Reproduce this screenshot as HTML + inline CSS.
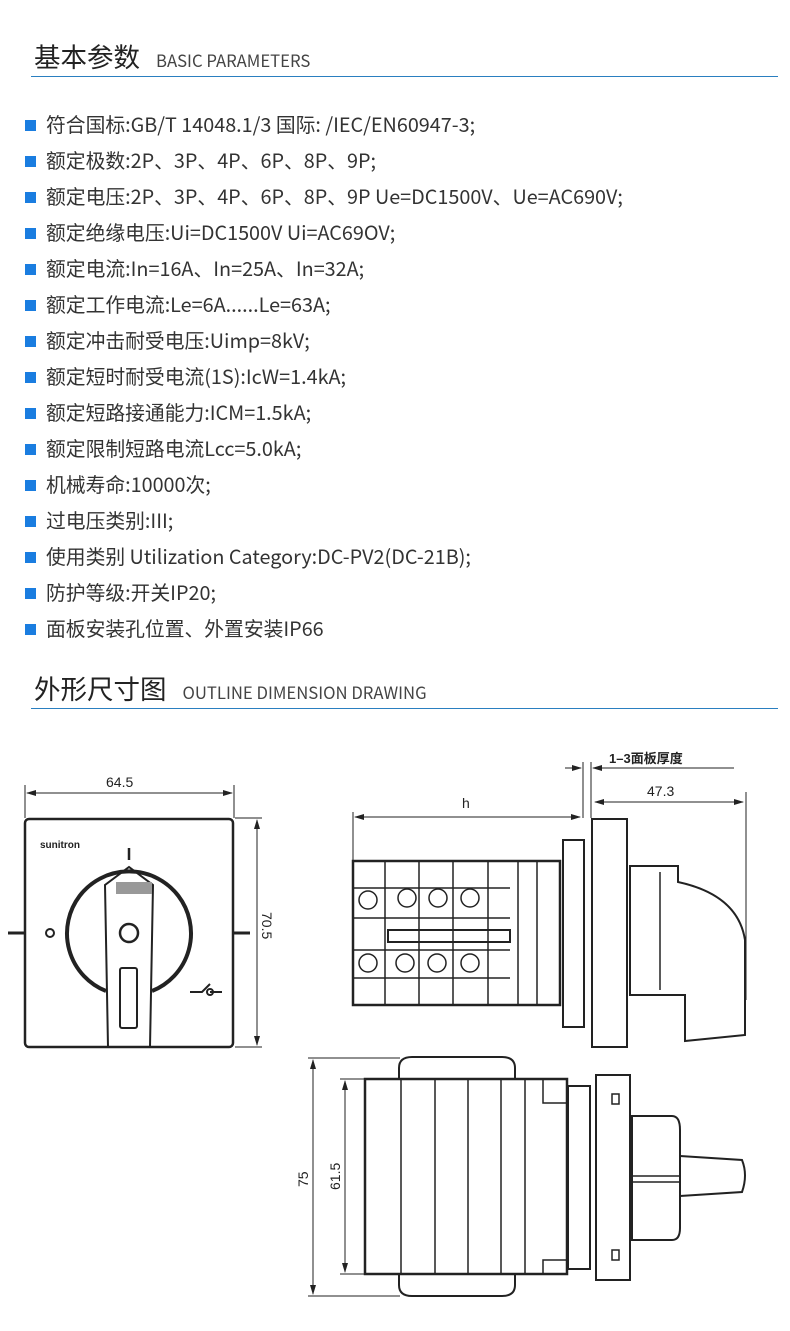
<!DOCTYPE html>
<html><head><meta charset="utf-8"><style>
body{margin:0;width:790px;height:1331px;background:#fff;position:relative;font-family:"Noto Sans CJK SC","Liberation Sans",sans-serif;color:#333;overflow:hidden}
.h{position:absolute;left:34px;font-size:26.5px;color:#222;line-height:36px}
.h small{font-size:16.7px;color:#444;margin-left:16px}
.ln{position:absolute;left:31px;width:747px;height:1px;background:#2a7fc0}
ul{position:absolute;left:25px;top:106px;margin:0;padding:0;list-style:none}
li{height:36px;line-height:36px;font-size:19.8px;color:#333;white-space:nowrap}
li:before{content:"";display:inline-block;width:11px;height:11px;background:#1a7de0;margin-right:10px;vertical-align:1px}
svg{position:absolute;left:0;top:0}
</style></head><body>
<div class="h" style="top:38px">基本参数<small>BASIC PARAMETERS</small></div>
<div class="ln" style="top:76px"></div>
<ul>
<li>符合国标:GB/T 14048.1/3 国际: /IEC/EN60947-3;</li>
<li>额定极数:2P、3P、4P、6P、8P、9P;</li>
<li>额定电压:2P、3P、4P、6P、8P、9P Ue=DC1500V、Ue=AC690V;</li>
<li>额定绝缘电压:Ui=DC1500V Ui=AC69OV;</li>
<li>额定电流:In=16A、In=25A、In=32A;</li>
<li>额定工作电流:Le=6A......Le=63A;</li>
<li>额定冲击耐受电压:Uimp=8kV;</li>
<li>额定短时耐受电流(1S):IcW=1.4kA;</li>
<li>额定短路接通能力:ICM=1.5kA;</li>
<li>额定限制短路电流Lcc=5.0kA;</li>
<li>机械寿命:10000次;</li>
<li>过电压类别:III;</li>
<li>使用类别 Utilization Category:DC-PV2(DC-21B);</li>
<li>防护等级:开关IP20;</li>
<li>面板安装孔位置、外置安装IP66</li>
</ul>
<div class="h" style="top:670px">外形尺寸图<small>OUTLINE DIMENSION DRAWING</small></div>
<div class="ln" style="top:708px"></div>
<svg width="790" height="1331" font-family="Liberation Sans, Noto Sans CJK SC, sans-serif" fill="none" stroke="#222">
<defs><marker id="a" markerWidth="10" markerHeight="6" refX="9" refY="3" orient="auto-start-reverse"><path d="M0,0L10,3L0,6z" fill="#222" stroke="none"/></marker></defs>
<g stroke-width="1">
<line x1="25" y1="785" x2="25" y2="818"/><line x1="234" y1="785" x2="234" y2="818"/>
<line x1="27" y1="793" x2="232" y2="793" marker-start="url(#a)" marker-end="url(#a)"/>
<line x1="235" y1="818" x2="262" y2="818"/><line x1="235" y1="1047" x2="262" y2="1047"/>
<line x1="257" y1="820" x2="257" y2="1045" marker-start="url(#a)" marker-end="url(#a)"/>
</g>
<text x="106" y="787" font-size="14" fill="#222" stroke="none">64.5</text>
<text x="262" y="912" font-size="14" fill="#222" stroke="none" transform="rotate(90 262 912)">70.5</text>
<rect x="25" y="819" width="208" height="228" rx="4" stroke-width="2.5"/>
<text x="40" y="848" font-size="10" font-weight="bold" fill="#222" stroke="none">sunitron</text>
<line x1="8" y1="933" x2="25" y2="933" stroke-width="3"/><line x1="233" y1="933" x2="250" y2="933" stroke-width="3"/>
<circle cx="50" cy="933" r="4" stroke-width="2"/>
<line x1="129" y1="848" x2="129" y2="860" stroke-width="2.5"/>
<path d="M106,991 A62,62 0 1 1 152,991" stroke-width="4"/>
<path d="M108,1047 L105,885 L129,867 L153,885 L150,1047" stroke-width="2"/>
<rect x="116" y="882" width="36" height="12" fill="#999" stroke="none"/>
<circle cx="129" cy="933" r="9" stroke-width="2.5"/>
<rect x="120" y="968" width="17" height="60" rx="2" stroke-width="2"/>
<path d="M190,992 L202,992 L210,984 M210,992 L222,992" stroke-width="2"/><circle cx="210" cy="992" r="3" stroke-width="2"/>
<g stroke-width="1">
<line x1="353" y1="812" x2="353" y2="861"/>
<line x1="355" y1="817" x2="580" y2="817" marker-start="url(#a)" marker-end="url(#a)"/>
<line x1="583" y1="762" x2="583" y2="818"/><line x1="591" y1="762" x2="591" y2="818"/>
<line x1="565" y1="768" x2="581" y2="768" marker-end="url(#a)"/><line x1="608" y1="768" x2="593" y2="768" marker-end="url(#a)"/>
<line x1="608" y1="768" x2="734" y2="768"/>
<line x1="595" y1="802" x2="743" y2="802" marker-start="url(#a)" marker-end="url(#a)"/>
<line x1="746" y1="792" x2="746" y2="1000"/>
</g>
<text x="462" y="808" font-size="14" fill="#222" stroke="none">h</text>
<text x="609" y="763" font-size="13" font-weight="bold" fill="#222" stroke="none">1–3面板厚度</text>
<text x="647" y="796" font-size="14" fill="#222" stroke="none">47.3</text>
<rect x="353" y="861" width="207" height="144" stroke-width="2.5"/>
<g stroke-width="1.5">
<line x1="385" y1="861" x2="385" y2="1005"/><line x1="419" y1="861" x2="419" y2="1005"/><line x1="453" y1="861" x2="453" y2="1005"/><line x1="488" y1="861" x2="488" y2="1005"/><line x1="518" y1="861" x2="518" y2="1005"/><line x1="537" y1="861" x2="537" y2="1005"/>
<line x1="353" y1="888" x2="510" y2="888"/><line x1="353" y1="918" x2="510" y2="918"/><line x1="353" y1="950" x2="510" y2="950"/><line x1="353" y1="978" x2="510" y2="978"/>
<rect x="388" y="930" width="122" height="12" stroke-width="2"/>
<circle cx="368" cy="900" r="9"/><circle cx="407" cy="898" r="9"/><circle cx="438" cy="898" r="9"/><circle cx="470" cy="898" r="9"/>
<circle cx="368" cy="963" r="9"/><circle cx="405" cy="963" r="9"/><circle cx="437" cy="963" r="9"/><circle cx="470" cy="963" r="9"/>
</g>
<rect x="563" y="840" width="21" height="187" stroke-width="2"/>
<rect x="592" y="819" width="35" height="228" stroke-width="2"/>
<path d="M630,866 L678,866 L678,882 Q738,895 745,940 L745,1035 L685,1041 L685,995 L630,995 Z" stroke-width="2"/>
<line x1="660" y1="872" x2="660" y2="990" stroke-width="1.5"/>
<g stroke-width="1">
<line x1="308" y1="1058" x2="400" y2="1058"/><line x1="308" y1="1296" x2="400" y2="1296"/>
<line x1="313" y1="1060" x2="313" y2="1294" marker-start="url(#a)" marker-end="url(#a)"/>
<line x1="340" y1="1079" x2="365" y2="1079"/><line x1="340" y1="1274" x2="365" y2="1274"/>
<line x1="345" y1="1081" x2="345" y2="1272" marker-start="url(#a)" marker-end="url(#a)"/>
</g>
<text x="308" y="1187" font-size="14" fill="#222" stroke="none" transform="rotate(-90 308 1187)">75</text>
<text x="340" y="1190" font-size="14" fill="#222" stroke="none" transform="rotate(-90 340 1190)">61.5</text>
<path d="M399,1079 L399,1068 Q399,1057 412,1057 L502,1057 Q515,1057 515,1068 L515,1079" stroke-width="2"/>
<path d="M399,1274 L399,1285 Q399,1296 412,1296 L502,1296 Q515,1296 515,1285 L515,1274" stroke-width="2"/>
<rect x="365" y="1079" width="202" height="195" stroke-width="2.5"/>
<g stroke-width="1.5"><line x1="401" y1="1079" x2="401" y2="1274"/><line x1="435" y1="1079" x2="435" y2="1274"/><line x1="468" y1="1079" x2="468" y2="1274"/><line x1="501" y1="1079" x2="501" y2="1274"/><line x1="525" y1="1079" x2="525" y2="1274"/>
<path d="M543,1079 L543,1103 L567,1103 M543,1274 L543,1260 L567,1260"/></g>
<rect x="568" y="1086" width="22" height="183" stroke-width="2"/>
<rect x="596" y="1075" width="34" height="205" stroke-width="2"/>
<rect x="612" y="1094" width="7" height="10" stroke-width="1.5"/><rect x="612" y="1250" width="7" height="10" stroke-width="1.5"/>
<path d="M632,1116 L672,1116 Q680,1116 680,1130 L680,1228 Q680,1240 672,1240 L632,1240 Z" stroke-width="2"/>
<line x1="632" y1="1176" x2="680" y2="1176" stroke-width="1.5"/><line x1="632" y1="1182" x2="680" y2="1182" stroke-width="1.5"/>
<path d="M680,1156 L742,1160 Q748,1175 742,1192 L680,1196" stroke-width="2"/>
</svg>
</body></html>
